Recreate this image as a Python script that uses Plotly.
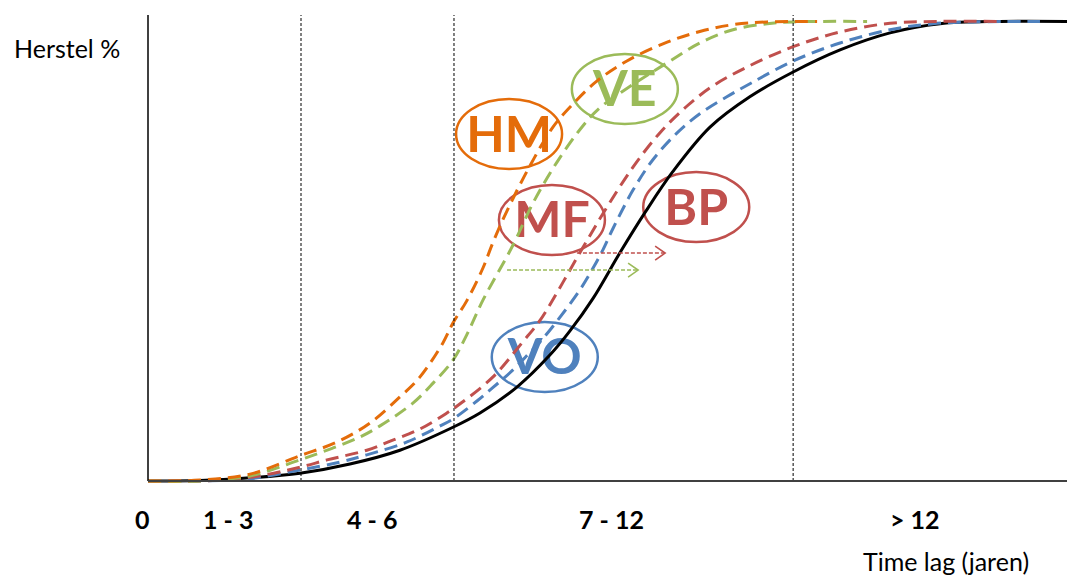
import plotly.graph_objects as go

# ---- data (x: time-lag scale, y: recovery %) ----
x_black = [0.00, 1.02, 2.00, 2.98, 3.96, 4.94, 5.98, 6.51, 7.24, 7.88, 8.27, 8.73, 9.25, 9.75, 10.29, 11.02, 11.80, 12.65, 13.57, 14.55, 15.53, 16.71, 18.02]
y_black = [0.0, 0.1, 0.7, 1.7, 3.7, 6.7, 11.7, 14.8, 20.5, 27.4, 32.6, 39.8, 49.6, 58.5, 67.3, 77.0, 83.6, 89.0, 93.8, 97.5, 99.5, 100.0, 100.0]

x_blue = [0.00, 1.02, 2.00, 2.98, 3.76, 4.29, 5.08, 5.73, 5.98, 6.45, 6.76, 7.14, 7.43, 7.69, 8.02, 8.47, 8.73, 8.92, 9.12, 9.51, 9.90, 10.37, 10.82, 11.35, 11.86, 12.65, 13.57, 14.55, 15.39, 16.18, 17.49]
y_blue = [0.0, 0.0, 0.5, 2.4, 4.1, 5.7, 8.5, 12.0, 13.5, 17.4, 20.3, 24.0, 27.3, 30.3, 34.8, 41.6, 46.4, 50.3, 55.0, 63.3, 69.9, 75.7, 79.9, 83.6, 86.8, 91.4, 95.3, 98.2, 99.5, 99.9, 100.0]

x_red = [0.00, 1.02, 2.00, 2.98, 3.51, 4.29, 4.80, 5.33, 5.86, 6.12, 6.76, 7.35, 7.69, 8.02, 8.33, 8.67, 9.00, 9.51, 10.04, 10.57, 11.08, 11.75, 12.65, 13.57, 14.55, 15.53, 16.71]
y_red = [0.0, 0.0, 0.8, 3.0, 4.6, 6.7, 8.9, 11.3, 14.8, 16.8, 22.6, 30.3, 35.0, 41.0, 47.0, 53.5, 59.6, 68.3, 75.8, 81.6, 86.0, 90.1, 94.5, 97.7, 99.6, 100.0, 100.0]

x_green = [0.00, 1.02, 2.00, 2.98, 3.63, 4.16, 4.55, 5.20, 5.59, 5.98, 6.25, 6.57, 7.16, 7.55, 8.02, 8.53, 8.86, 9.51, 10.18, 10.82, 11.47, 12.14, 12.65, 14.10]
y_green = [0.0, 0.0, 1.1, 4.6, 7.2, 9.6, 12.0, 17.0, 21.3, 26.3, 31.8, 39.4, 51.4, 60.5, 69.4, 77.3, 81.2, 86.3, 91.0, 95.3, 98.2, 99.5, 99.9, 100.0]

x_orange = [0.00, 1.02, 2.00, 2.98, 3.71, 4.35, 4.94, 5.33, 5.78, 5.98, 6.25, 6.57, 6.76, 7.04, 7.49, 7.94, 8.33, 8.80, 9.39, 10.18, 10.82, 11.47, 12.14, 13.12]
y_orange = [0.0, 0.2, 1.5, 5.5, 8.5, 12.6, 18.3, 22.6, 30.0, 34.4, 39.2, 46.4, 51.8, 58.8, 68.6, 77.0, 82.0, 87.0, 91.4, 95.5, 97.8, 99.3, 99.9, 100.0]

labels = ["HM", "VE", "MF", "BP", "VO"]
label_x = [7.08, 9.35, 7.92, 10.75, 7.78]
label_y = [75.5, 85.3, 56.8, 59.6, 27.0]

period_bounds = [3.0, 6.0, 12.65]
tick_pos = [-0.1, 1.57, 4.39, 9.08, 15.04]
tick_text = ["0", "1 - 3", "4 - 6", "7 - 12", "> 12"]

arrow_red_x = [8.41, 10.14]
arrow_red_y = [49.6, 49.6]
arrow_green_x = [7.04, 9.61]
arrow_green_y = [45.9, 45.9]

# ---- style ----
C_ORANGE = "#E46C0A"
C_GREEN = "#9BBB59"
C_RED = "#C0504D"
C_BLUE = "#4F81BD"
C_BLACK = "#000000"
label_colors = [C_ORANGE, C_GREEN, C_RED, C_RED, C_BLUE]

W, H = 1067, 576
ML, MR, MT, MB = 148, 0, 15, 92
XR = [0, 18.02]
YR = [-0.65, 101.4]
PW, PH = W - ML - MR, H - MT - MB
px_x = PW / (XR[1] - XR[0])
px_y = PH / (YR[1] - YR[0])
y0_paper = (0 - YR[0]) / (YR[1] - YR[0])


def paper_y(ref_py):
    # pixel row -> paper y (x axis line sits at pixel row 481)
    return y0_paper + (481 - ref_py) / PH


def paper_x(ref_px):
    return (ref_px - 148) / PW


fig = go.Figure()

shapes = []
RX, RY = 53 / px_x, 35 / px_y
for lx, ly, c in zip(label_x, label_y, label_colors):
    shapes.append(dict(type="circle", xref="x", yref="y", x0=lx - RX, x1=lx + RX,
                       y0=ly - RY, y1=ly + RY, line=dict(color=c, width=2.5), layer="below"))

shapes.append(dict(type="line", xref="paper", yref="paper", x0=0, x1=0, y0=y0_paper, y1=1,
                   line=dict(color="#000000", width=1.5)))
for b in period_bounds:
    shapes.append(dict(type="line", xref="x", yref="paper", x0=b, x1=b, y0=y0_paper, y1=1,
                       line=dict(color="#000000", width=1, dash="3px,2px")))
shapes.append(dict(type="line", xref="paper", yref="paper", x0=0, x1=1, y0=y0_paper, y1=y0_paper,
                   line=dict(color="#404040", width=2)))

TEXT_DY = 5 / px_y  # small downward nudge of the labels inside the ellipses
for t, lx, ly, c in zip(labels, label_x, label_y, label_colors):
    fig.add_trace(go.Scatter(x=[lx], y=[ly - TEXT_DY], mode="text", text=["<b>" + t + "</b>"],
                             textposition="middle center",
                             textfont=dict(family="Lato", size=50, color=c),
                             hoverinfo="skip", showlegend=False))

dash = "13px,7px"
curves = [(x_black, y_black, C_BLACK, "solid"), (x_blue, y_blue, C_BLUE, dash),
          (x_red, y_red, C_RED, dash), (x_green, y_green, C_GREEN, dash),
          (x_orange, y_orange, C_ORANGE, dash)]
for xs, ys, c, d in curves:
    fig.add_trace(go.Scatter(x=xs, y=ys, mode="lines",
                             line=dict(color=c, width=3, dash=d, shape="spline", smoothing=1.0),
                             hoverinfo="skip", showlegend=False))

HX, HY = 10 / px_x, 7 / px_y
for ax_, ay_, c in [(arrow_red_x, arrow_red_y, C_RED), (arrow_green_x, arrow_green_y, C_GREEN)]:
    fig.add_trace(go.Scatter(x=ax_, y=ay_, mode="lines", line=dict(color=c, width=1.6, dash="4px,2px"),
                             hoverinfo="skip", showlegend=False))
    tx, ty = ax_[1], ay_[1]
    fig.add_trace(go.Scatter(x=[tx - HX, tx, tx - HX], y=[ty + HY, ty, ty - HY], mode="lines",
                             line=dict(color=c, width=1.6), hoverinfo="skip", showlegend=False))

annotations = []
for p, t in zip(tick_pos, tick_text):
    annotations.append(dict(x=(p - XR[0]) / (XR[1] - XR[0]), xref="paper", y=paper_y(519), yref="paper",
                            text="<b>" + t.replace(">", "&gt;") + "</b>", showarrow=False,
                            font=dict(family="Lato", size=25, color="#000000"),
                            xanchor="center", yanchor="middle"))
annotations.append(dict(x=paper_x(12), xref="paper", y=paper_y(48), yref="paper",
                        text="Herstel %", showarrow=False, xanchor="left", yanchor="middle",
                        font=dict(family="Lato", size=25, color="#000000")))
annotations.append(dict(x=paper_x(946), xref="paper", y=paper_y(561), yref="paper",
                        text="Time lag (jaren)", showarrow=False, xanchor="center", yanchor="middle",
                        font=dict(family="Lato", size=25, color="#000000")))

fig.update_layout(
    width=W, height=H,
    margin=dict(l=ML, r=MR, t=MT, b=MB, pad=0),
    paper_bgcolor="white", plot_bgcolor="white",
    xaxis=dict(range=XR, visible=False, showgrid=False, zeroline=False, fixedrange=True),
    yaxis=dict(range=YR, visible=False, showgrid=False, zeroline=False, fixedrange=True),
    shapes=shapes, annotations=annotations,
)

fig.write_html("out.html", config={"displayModeBar": False},
               post_script="document.body.style.margin='0';document.body.style.overflow='hidden';")
